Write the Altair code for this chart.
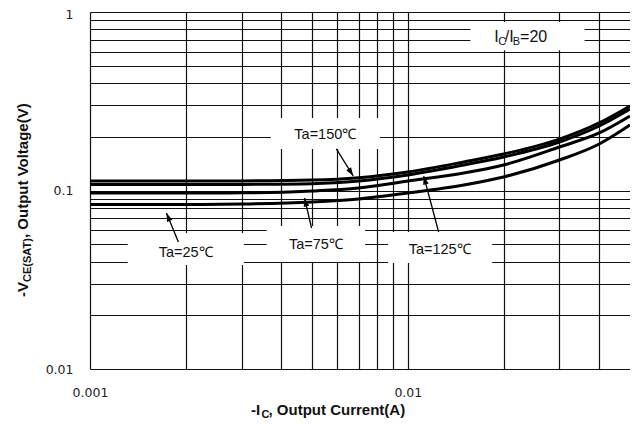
import altair as alt
import pandas as pd

# ---------------- data ----------------
current_a = [0.001, 0.002, 0.003, 0.005, 0.007, 0.01, 0.015, 0.02, 0.03, 0.04, 0.05]
vce_150 = [0.1130, 0.1130, 0.1132, 0.1145, 0.1180, 0.1270, 0.1445, 0.1600, 0.1940, 0.2390, 0.2975]
vce_125 = [0.1080, 0.1080, 0.1082, 0.1092, 0.1130, 0.1222, 0.1390, 0.1541, 0.1869, 0.2298, 0.2861]
vce_75 = [0.0968, 0.0968, 0.0970, 0.0994, 0.1033, 0.1130, 0.1253, 0.1390, 0.1753, 0.2100, 0.2615]
vce_25 = [0.0835, 0.0835, 0.0840, 0.0862, 0.0896, 0.0968, 0.1073, 0.1190, 0.1482, 0.1822, 0.2328]
temps = ["150", "125", "75", "25"]

x_grid = [0.001, 0.002, 0.003, 0.004, 0.005, 0.006, 0.007, 0.008, 0.009,
          0.01, 0.02, 0.03, 0.04]
y_grid = [0.01, 0.02, 0.03, 0.04, 0.05, 0.06, 0.07, 0.08, 0.09,
          0.1, 0.2, 0.3, 0.4, 0.5, 0.6, 0.7, 0.8, 0.9]

# annotation labels (data coordinates)
label_text = ["Ta=150℃", "Ta=125℃", "Ta=75℃", "Ta=25℃"]
label_x = [0.00550, 0.01259, 0.00514, 0.00200]
label_y = [0.2047, 0.0464, 0.0495, 0.0447]

# white boxes behind labels
box_x1 = [0.003705, 0.00866, 0.003598, 0.001314, 0.01574]
box_x2 = [0.008175, 0.01843, 0.007337, 0.003050, 0.03598]
box_y1 = [0.1709, 0.03925, 0.03977, 0.03825, 0.610]
box_y2 = [0.2548, 0.05854, 0.06326, 0.05779, 0.879]

# arrows: start -> tip
arrow_x1 = [0.005957, 0.01250, 0.004977, 0.001897]
arrow_y1 = [0.1709, 0.05854, 0.06165, 0.05146]
arrow_x2 = [0.006733, 0.01122, 0.004732, 0.001740]
arrow_y2 = [0.1206, 0.1206, 0.09078, 0.07482]
arrow_angle = [147.8, 345.0, 346.9, 337.5]

# I_C / I_B = 20 text pieces
ratio_text = ["I", "/I", " =20"]
ratio_x = [0.01870, 0.02017, 0.02255]
ratio_sub_text = ["C", "B"]
ratio_sub_x = [0.01925, 0.02137]
ratio_y = 0.6791
ratio_sub_y = 0.6533

# ---------------- tables ----------------
curves = pd.DataFrame({
    "I": current_a * 4,
    "V": vce_150 + vce_125 + vce_75 + vce_25,
    "Ta": sum([[t] * len(current_a) for t in temps], []),
})
labels = pd.DataFrame({"x": label_x, "y": label_y, "t": label_text})
boxes = pd.DataFrame({"x1": box_x1, "x2": box_x2, "y1": box_y1, "y2": box_y2})
arrows = pd.DataFrame({"x1": arrow_x1, "y1": arrow_y1, "x2": arrow_x2,
                       "y2": arrow_y2, "a": arrow_angle})
ratio = pd.DataFrame({"x": ratio_x, "y": [ratio_y] * 3, "t": ratio_text})
ratio_sub = pd.DataFrame({"x": ratio_sub_x, "y": [ratio_sub_y] * 2, "t": ratio_sub_text})

xs = alt.Scale(type="log", domain=[0.001, 0.05], nice=False)
ys = alt.Scale(type="log", domain=[0.01, 1], nice=False)

x_axis = alt.Axis(values=x_grid, grid=True, gridColor="#111", gridWidth=1.2,
                  ticks=False, domain=False, title=None, labelFlush=False,
                  labelOverlap=False, labelFont="DejaVu Sans", labelFontSize=12.5,
                  labelColor="#222", labelPadding=17,
                  labelExpr="datum.value == 0.001 ? '0.001' : (datum.value == 0.01 ? '0.01' : '')")
y_axis = alt.Axis(values=y_grid + [1], grid=True, gridColor="#111", gridWidth=1.2,
                  ticks=False, domain=False, title=None, labelFlush=False,
                  labelOverlap=False, labelFont="DejaVu Sans", labelFontSize=12.5,
                  labelColor="#222", labelPadding=17,
                  labelOffset={"condition": {"test": "datum.value == 1", "value": 2}, "value": 0},
                  labelExpr="datum.value == 1 ? '1' : (datum.value == 0.1 ? '0.1' : (datum.value == 0.01 ? '0.01' : ''))")

lines = alt.Chart(curves).mark_line(color="black", strokeWidth=3, interpolate="monotone").encode(
    x=alt.X("I:Q", scale=xs, axis=x_axis),
    y=alt.Y("V:Q", scale=ys, axis=y_axis),
    detail="Ta:N",
)

rects = alt.Chart(boxes).mark_rect(color="white").encode(
    x=alt.X("x1:Q", scale=xs), x2="x2:Q", y=alt.Y("y1:Q", scale=ys), y2="y2:Q")

rules = alt.Chart(arrows).mark_rule(color="black", strokeWidth=1.3).encode(
    x=alt.X("x1:Q", scale=xs), y=alt.Y("y1:Q", scale=ys), x2="x2:Q", y2="y2:Q")

heads = alt.Chart(arrows).mark_point(
    shape="M0,0 L0.6,1.8 L-0.6,1.8 Z", filled=True, color="black", opacity=1, size=90
).encode(x=alt.X("x2:Q", scale=xs), y=alt.Y("y2:Q", scale=ys),
         angle=alt.Angle("a:Q", scale=None))

label_marks = alt.Chart(labels).mark_text(
    font="Liberation Sans", fontSize=14.5, color="#111", align="center", baseline="middle"
).encode(x=alt.X("x:Q", scale=xs), y=alt.Y("y:Q", scale=ys), text="t:N")

ratio_marks = alt.Chart(ratio).mark_text(
    font="Liberation Sans", fontSize=16, color="#111", align="left", baseline="alphabetic"
).encode(x=alt.X("x:Q", scale=xs), y=alt.Y("y:Q", scale=ys), text="t:N")

ratio_sub_marks = alt.Chart(ratio_sub).mark_text(
    font="Liberation Sans", fontSize=11, color="#111", align="left", baseline="alphabetic"
).encode(x=alt.X("x:Q", scale=xs), y=alt.Y("y:Q", scale=ys), text="t:N")

# axis titles (with subscripts) placed relative to the plot frame
title_font = dict(font="Liberation Sans", fontWeight="bold", color="#111",
                  align="left", baseline="alphabetic")
xt1 = alt.Chart(pd.DataFrame({"t": ["-I"]})).mark_text(fontSize=15, **title_font).encode(
    x=alt.value(161), y=alt.value(403), text="t:N")
xt2 = alt.Chart(pd.DataFrame({"t": ["C"]})).mark_text(fontSize=11, **title_font).encode(
    x=alt.value(171.5), y=alt.value(405.5), text="t:N")
xt3 = alt.Chart(pd.DataFrame({"t": [", Output Current(A)"]})).mark_text(fontSize=15, **title_font).encode(
    x=alt.value(178.5), y=alt.value(403), text="t:N")
yt1 = alt.Chart(pd.DataFrame({"t": ["-V"]})).mark_text(fontSize=15, angle=270, **title_font).encode(
    x=alt.value(-62.5), y=alt.value(285), text="t:N")
yt2 = alt.Chart(pd.DataFrame({"t": ["CE(SAT)"]})).mark_text(fontSize=11, angle=270, **title_font).encode(
    x=alt.value(-59.5), y=alt.value(270), text="t:N")
yt3 = alt.Chart(pd.DataFrame({"t": [", Output Voltage(V)"]})).mark_text(fontSize=15, angle=270, **title_font).encode(
    x=alt.value(-62.5), y=alt.value(226), text="t:N")

chart = alt.layer(
    lines, rects, rules, heads, label_marks, ratio_marks, ratio_sub_marks,
    xt1, xt2, xt3, yt1, yt2, yt3,
).properties(
    width=540, height=357,
    autosize=alt.AutoSizeParams(type="none"),
    padding={"left": 82, "top": 4, "right": 0, "bottom": 49},
).configure_view(stroke="#888", strokeWidth=1).configure(background="white")

chart.save("out.html", embed_options={"renderer": "svg", "actions": False})
